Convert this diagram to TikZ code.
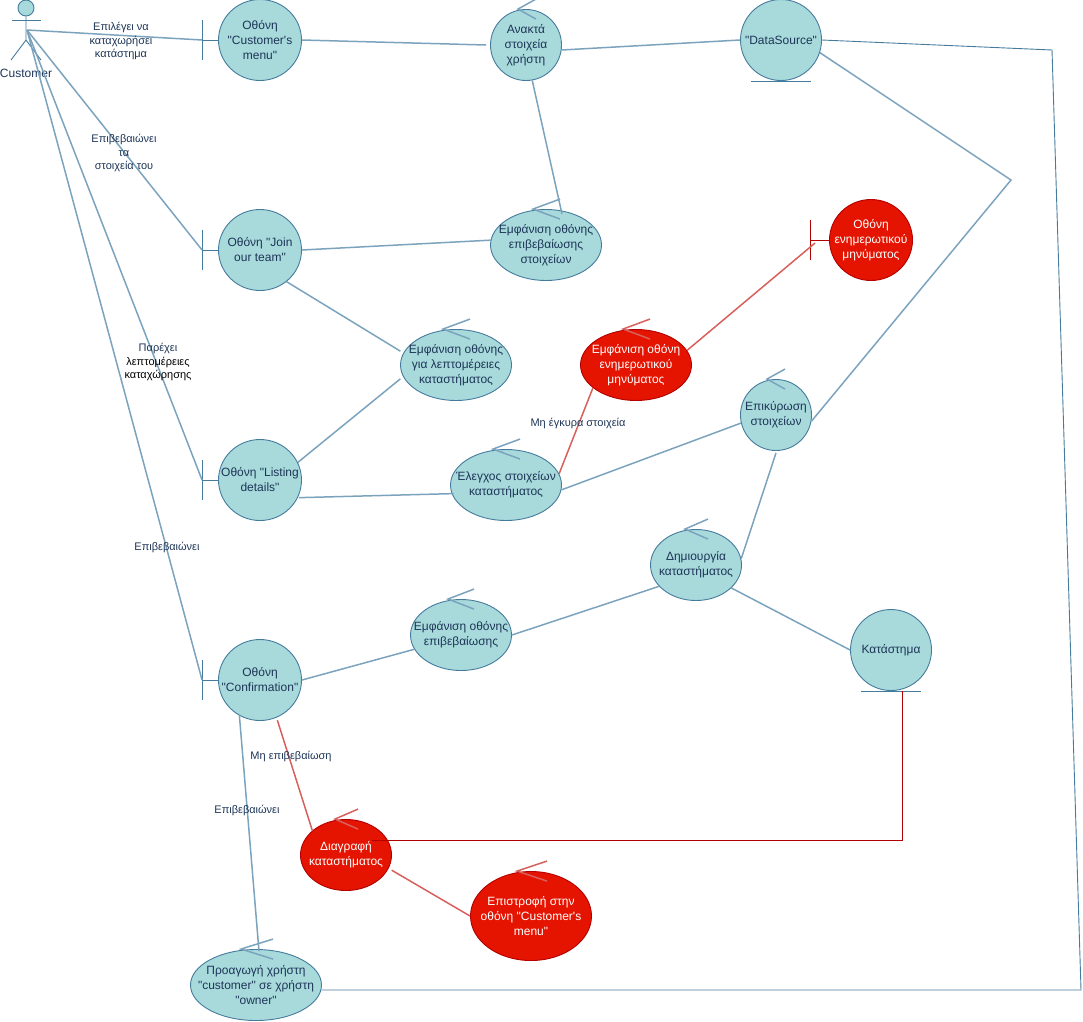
\documentclass[tikz,border=0pt]{standalone}
\usepackage{fontspec}
\setmainfont[Ligatures=TeXOff]{Liberation Sans}
\usetikzlibrary{shapes.geometric}
\definecolor{tealfill}{HTML}{A8DADC}
\definecolor{tealline}{HTML}{457B9D}
\definecolor{softline}{HTML}{7CA3BE}
\definecolor{navytext}{HTML}{1D3557}
\definecolor{redfill}{HTML}{E51400}
\definecolor{redline}{HTML}{B20000}
\definecolor{softred}{HTML}{D8605C}
\begin{document}
\begin{tikzpicture}[
        x=1pt, y=-1pt,
        obj/.style={ellipse, draw=tealline, fill=tealfill, text=navytext, align=center, inner sep=-40pt, line width=0.9pt, font=\fontsize{12}{15}\selectfont},
        redobj/.style={obj, draw=redline, fill=redfill, text=white},
        lbl/.style={align=center, text=navytext, inner sep=0pt, font=\fontsize{11}{13.3}\selectfont},
        conn/.style={softline, line width=1.5pt},
        redconn/.style={softred, line width=1.5pt},
        outline/.style={tealline, line width=0.9pt},
    ]
    \useasboundingbox (0,0) rectangle (1083,1021);

    % actor
    \coordinate (hip) at (26,40);
    \coordinate (actor) at (27,30);
    \node[obj, circle, inner sep=0pt, minimum size=16pt] (head) at (26,8) {};
    \draw[outline] (head.south) -- (hip) -- (11,60);
    \draw[outline] (hip) -- (41,60);
    \draw[outline] (12,20) -- (41,20);
    \node[lbl, font=\fontsize{12}{15}\selectfont] (customer) at (26,73) {Customer};

    % boundaries
    \node[obj, minimum width=83pt, minimum height=81pt] (menu) at (260,40) {Οθόνη\\"Customer's\\menu"};
    \node[obj, minimum width=83pt, minimum height=81pt] (join) at (260,250) {Οθόνη "Join\\our team"};
    \node[obj, minimum width=83pt, minimum height=81pt] (listing) at (260,480) {Οθόνη "Listing\\details"};
    \node[obj, minimum width=83pt, minimum height=81pt] (confirmation) at (260,680) {Οθόνη\\"Confirmation"};
    \node[redobj, minimum width=83pt, minimum height=81pt] (infoscreen) at (871,240) {Οθόνη\\ενημερωτικού\\μηνύματος};

    % entities
    \node[obj, minimum width=81pt, minimum height=81pt] (source) at (781,40) {"DataSource"};
    \node[obj, minimum width=81pt, minimum height=81pt] (store) at (891,650) {Κατάστημα};

    % controls
    \node[obj, minimum width=71pt, minimum height=71pt] (fetch) at (526,45) {Ανακτά\\στοιχεία\\χρήστη};
    \node[obj, minimum width=111pt, minimum height=71pt] (showconfirm) at (546,245) {Εμφάνιση οθόνης\\επιβεβαίωσης\\στοιχείων};
    \node[obj, minimum width=111pt, minimum height=71pt] (showdetails) at (456,365) {Εμφάνιση οθόνης\\για λεπτομέρειες\\καταστήματος};
    \node[redobj, minimum width=111pt, minimum height=71pt] (showinfo) at (636,365) {Εμφάνιση οθόνη\\ενημερωτικού\\μηνύματος};
    \node[obj, minimum width=71pt, minimum height=71pt] (validate) at (776,415) {Επικύρωση\\στοιχείων};
    \node[obj, minimum width=111pt, minimum height=71pt] (check) at (506,485) {Έλεγχος στοιχείων\\καταστήματος};
    \node[obj, minimum width=91pt, minimum height=71pt] (create) at (696,565) {Δημιουργία\\καταστήματος};
    \node[obj, minimum width=101pt, minimum height=71pt] (showok) at (461,635) {Εμφάνιση οθόνης\\επιβεβαίωσης};
    \node[redobj, minimum width=91pt, minimum height=71pt] (remove) at (346,855) {Διαγραφή\\καταστήματος};
    \node[redobj, minimum width=121pt, minimum height=89pt] (back) at (531,916) {Επιστροφή στην\\οθόνη "Customer's\\menu"};
    \node[obj, minimum width=131pt, minimum height=71pt] (promote) at (256,985) {Προαγωγή χρήστη\\"customer" σε χρήστη\\"owner"};

    % marks on the shapes
    \foreach \n in {menu, join, listing, confirmation} {
        \draw[outline] (\n.west) -- ++(-16,0) coordinate (\n bar) ++(0,-20) -- ++(0,40);
    }
    \draw[redline, line width=0.9pt] (infoscreen.west) -- ++(-19,0) coordinate (infoscreenbar) ++(0,-20) -- ++(0,40);
    \foreach \n in {source, store} {
        \draw[outline] ([xshift=-30pt]\n.south) -- ([xshift=30pt]\n.south);
    }
    \foreach \n/\dx/\w in {fetch/-8/18, showconfirm/-13/27, showdetails/-13/27, validate/-9/18, check/-13/27, create/-11/23, showok/-13/26, promote/-15/32} {
        \draw[conn] ([xshift=\w pt, yshift=10pt]\n.north) ++(\dx,0) -- ++(-\w,10) -- ++(\w,10);
    }
    \foreach \n/\dx/\w in {showinfo/-13/27, remove/-11/23, back/-14/30} {
        \draw[redconn] ([xshift=\w pt, yshift=10pt]\n.north) ++(\dx,0) -- ++(-\w,10) -- ++(\w,10);
    }

    % connectors
    \foreach \n in {menu, join, listing, confirmation} {
        \draw[conn] (actor) -- (\n bar);
    }
    \draw[conn] (menu.east) -- ([xshift=-4pt]fetch.west);
    \draw[conn] (fetch.-8) -- (source.west);
    \draw[conn] (fetch.-80) -- ([shift={(16pt,-5pt)}]showconfirm.north);
    \draw[conn] (join.east) -- (showconfirm.175);
    \draw[conn] (join.-50) -- ([xshift=-4pt]showdetails.165);
    \draw[conn] (listing.25) -- ([xshift=-4pt]showdetails.195);
    \draw[conn] ([xshift=1pt]listing.-25) -- ([xshift=2pt]check.189);
    \draw[conn] (check.-5) -- (validate.-167);
    \draw[conn] ([yshift=-2pt]validate.-90) -- (create.8);
    \draw[conn] (showok.east) -- (create.-150);
    \draw[conn] (create.-33) -- (store.west);
    \draw[conn] (confirmation.east) -- (showok.-163);
    \draw[conn] (confirmation.-120) -- ([shift={(3pt,-2pt)}]promote.north);
    \coordinate (bend) at (1011,180);
    \draw[conn] (source.-18) -- (bend) -- (validate.-10);
    \coordinate (cornera) at (1052,50);
    \coordinate (cornerb) at (1081,990);
    \draw[outline] (source.east) -- (cornera) -- (cornerb) -- ([yshift=-5pt]promote.east);

    % red connectors
    \draw[redconn] (check.12) -- (showinfo.-152);
    \draw[redconn] (showinfo.16) -- ([shift={(5pt,-3pt)}]infoscreenbar);
    \draw[redconn] ([yshift=-3pt]confirmation.-65) -- (remove.144);
    \draw[redconn] ([xshift=4pt]remove.-20) -- (back.west);
    \coordinate (storecorner) at (902,840);
    \draw[redline, line width=0.9pt] ([xshift=26pt]remove.center |- storecorner) -- (storecorner) -- ([xshift=11pt]store.south);

    % labels
    \node[lbl] (pick) at (121,41) {Επιλέγει να\\καταχωρήσει\\κατάστημα};
    \node[lbl] (approve) at (124,153) {Επιβεβαιώνει\\τα\\στοιχεία του};
    \node[lbl] (give) at (158,362) {Παρέχει\\\textcolor{black}{λεπτομέρειες}\\\textcolor{black}{καταχώρησης}};
    \node[lbl] (agree) at (167,547) {Επιβεβαιώνει};
    \node[lbl] (invalid) at (578,423) {Μη έγκυρα στοιχεία};
    \node[lbl] (reject) at (291,756) {Μη επιβεβαίωση};
    \node[lbl] (accept) at (247,810) {Επιβεβαιώνει};
\end{tikzpicture}
\end{document}
